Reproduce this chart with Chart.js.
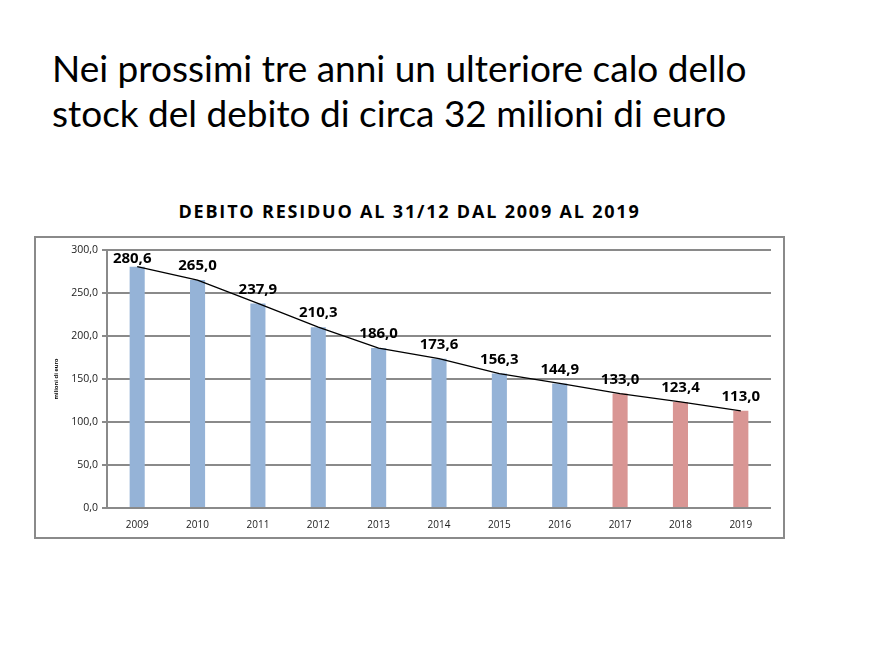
<!DOCTYPE html>
<html>
<head>
<meta charset="utf-8">
<script src="https://cdn.jsdelivr.net/npm/chart.js@4"></script>
<style>
  body { margin: 0; background: #fff; width: 883px; height: 659px; position: relative; font-family: Lato, "Open Sans", sans-serif; }
  #titolo { position: absolute; left: 52px; top: 45px; font-size: 37px; line-height: 45px; color: #000; }
  #titoloGrafico { position: absolute; left: 34px; width: 751px; top: 199px; text-align: center; font-family: "Open Sans", sans-serif; font-weight: bold; font-size: 18px; letter-spacing: 1.8px; color: #000; }
  #box { position: absolute; left: 34px; top: 236px; width: 751px; height: 303px; border: 2px solid #8a8a8a; box-sizing: border-box; }
  #box canvas { position: absolute; left: 0; top: 0; }
</style>
</head>
<body>
<div id="titolo">Nei prossimi tre anni un ulteriore calo dello<br>stock del debito di circa 32 milioni di euro</div>
<div id="titoloGrafico">DEBITO RESIDUO AL 31/12 DAL 2009 AL 2019</div>
<div id="box"><canvas id="graficoDebito" width="747" height="299"></canvas></div>
<script>
// anni e debito residuo (milioni di euro)
var anni = ['2009', '2010', '2011', '2012', '2013', '2014', '2015', '2016', '2017', '2018', '2019'];
var debito = [280.6, 265.0, 237.9, 210.3, 186.0, 173.6, 156.3, 144.9, 133.0, 123.4, 113.0];
var tickY = [0, 50, 100, 150, 200, 250, 300];

// colori: consuntivo blu, previsione rossa
var coloriBarre = [];
for (i = 0; i < anni.length; i++) {
  coloriBarre[i] = parseInt(anni[i]) >= 2017 ? '#D99694' : '#95B3D7';
}

function virgola(v) {
  return v.toFixed(1).replace('.', ',');
}

// etichette sopra le barre
var etichette = {
  id: 'etichette',
  afterDatasetsDraw: function (chart) {
    var ctx = chart.ctx;
    var meta = chart.getDatasetMeta(1);
    var top = chart.chartArea.top;
    ctx.save();
    ctx.font = 'bold 15px "Open Sans", sans-serif';
    ctx.fillStyle = '#000';
    ctx.textAlign = 'center';
    ctx.textBaseline = 'middle';
    meta.data.forEach(function (bar, i) {
      var y = Math.max(bar.y - 14, top + 9);
      var x = i == 0 ? bar.x - 5 : bar.x;
      ctx.fillText(virgola(debito[i]), x, y);
    });
    ctx.restore();
  }
};

var ctx = document.getElementById('graficoDebito').getContext('2d');
var chart = new Chart(ctx, {
  data: {
    labels: anni,
    datasets: [
      {
        type: 'line',
        data: debito,
        borderColor: '#000',
        borderWidth: 1.3,
        pointRadius: 0,
        tension: 0,
        order: 0
      },
      {
        type: 'bar',
        data: debito,
        backgroundColor: coloriBarre,
        barPercentage: 0.25,
        categoryPercentage: 1,
        order: 1
      }
    ]
  },
  options: {
    responsive: false,
    animation: false,
    layout: { padding: { top: 12, right: 12, left: 0, bottom: 0 } },
    plugins: {
      legend: { display: false },
      tooltip: { enabled: false }
    },
    scales: {
      x: {
        grid: { display: false },
        border: { display: false },
        ticks: { color: '#222', font: { family: '"Open Sans", sans-serif', size: 10 }, padding: 3 },
        afterFit: function (scale) { scale.height = 29; }
      },
      y: {
        min: 0,
        max: 300,
        afterBuildTicks: function (scale) {
          scale.ticks = tickY.map(function (v) { return { value: v }; });
        },
        grid: { color: '#8a8a8a', lineWidth: 2, tickLength: 5 },
        border: { color: '#8a8a8a', width: 2 },
        ticks: {
          color: '#222',
          font: { family: '"Open Sans", sans-serif', size: 10.5 },
          padding: 4,
          callback: function (v) { return virgola(v); }
        },
        title: {
          display: true,
          text: 'milioni di euro',
          color: '#000',
          font: { size: 6, weight: 'bold' },
          padding: { top: 17, bottom: 0 }
        },
        afterFit: function (scale) { scale.width = 71; }
      }
    }
  },
  plugins: [etichette]
});
</script>
</body>
</html>
